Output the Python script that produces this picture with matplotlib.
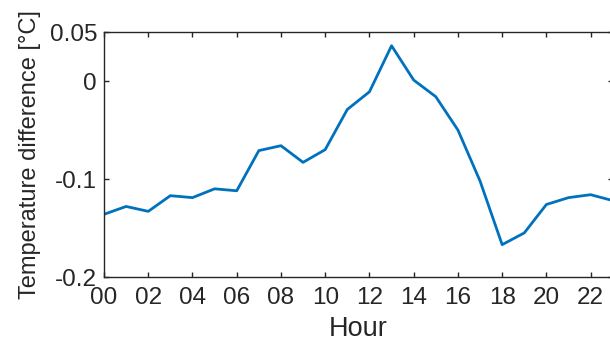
import numpy as np
import matplotlib
matplotlib.use("Agg")
import matplotlib.pyplot as plt

plt.rcParams['font.family'] = ['Liberation Sans', 'DejaVu Sans']
plt.rcParams['axes.unicode_minus'] = False

# hourly mean temperature difference
hours = np.arange(0, 24)
temp_diff = [-0.136, -0.128, -0.133, -0.117, -0.119, -0.110, -0.112, -0.071,
             -0.066, -0.083, -0.070, -0.029, -0.011, 0.036, 0.001, -0.016,
             -0.050, -0.102, -0.167, -0.155, -0.126, -0.119, -0.116, -0.122]

xtick_pos = np.arange(0, 23, 2)
xtick_labels = ["%02d" % h for h in xtick_pos]
ytick_pos = [-0.2, -0.1, 0, 0.05]
ytick_labels = ["-0.2", "-0.1", "0", "0.05"]

fig = plt.figure(figsize=(6.10, 3.47), dpi=100)
# the axes box runs slightly past the right edge of the figure
ax = fig.add_axes([0.1705, 0.2017, 0.834, 0.706])

ax.plot(hours, temp_diff, color="#0072BD", linewidth=2)

ax.set_xlim(0, 23)
ax.set_ylim(-0.2, 0.05)
ax.set_xticks(xtick_pos)
ax.set_xticklabels(xtick_labels)
ax.set_yticks(ytick_pos)
ax.set_yticklabels(ytick_labels)

ax.tick_params(direction="in", top=True, right=True, length=3.6, width=1,
               color="#262626", labelsize=17.5, labelcolor="#262626")
ax.tick_params(axis="x", pad=7)
ax.tick_params(axis="y", pad=5)
for s in ax.spines.values():
    s.set_color("#262626")
    s.set_linewidth(1)

ax.set_xlabel("Hour", fontsize=19.5, color="#262626", labelpad=5)
ax.set_ylabel("Temperature difference [°C]", fontsize=17, color="#262626", labelpad=6)

fig.savefig("out.png", dpi=100)
